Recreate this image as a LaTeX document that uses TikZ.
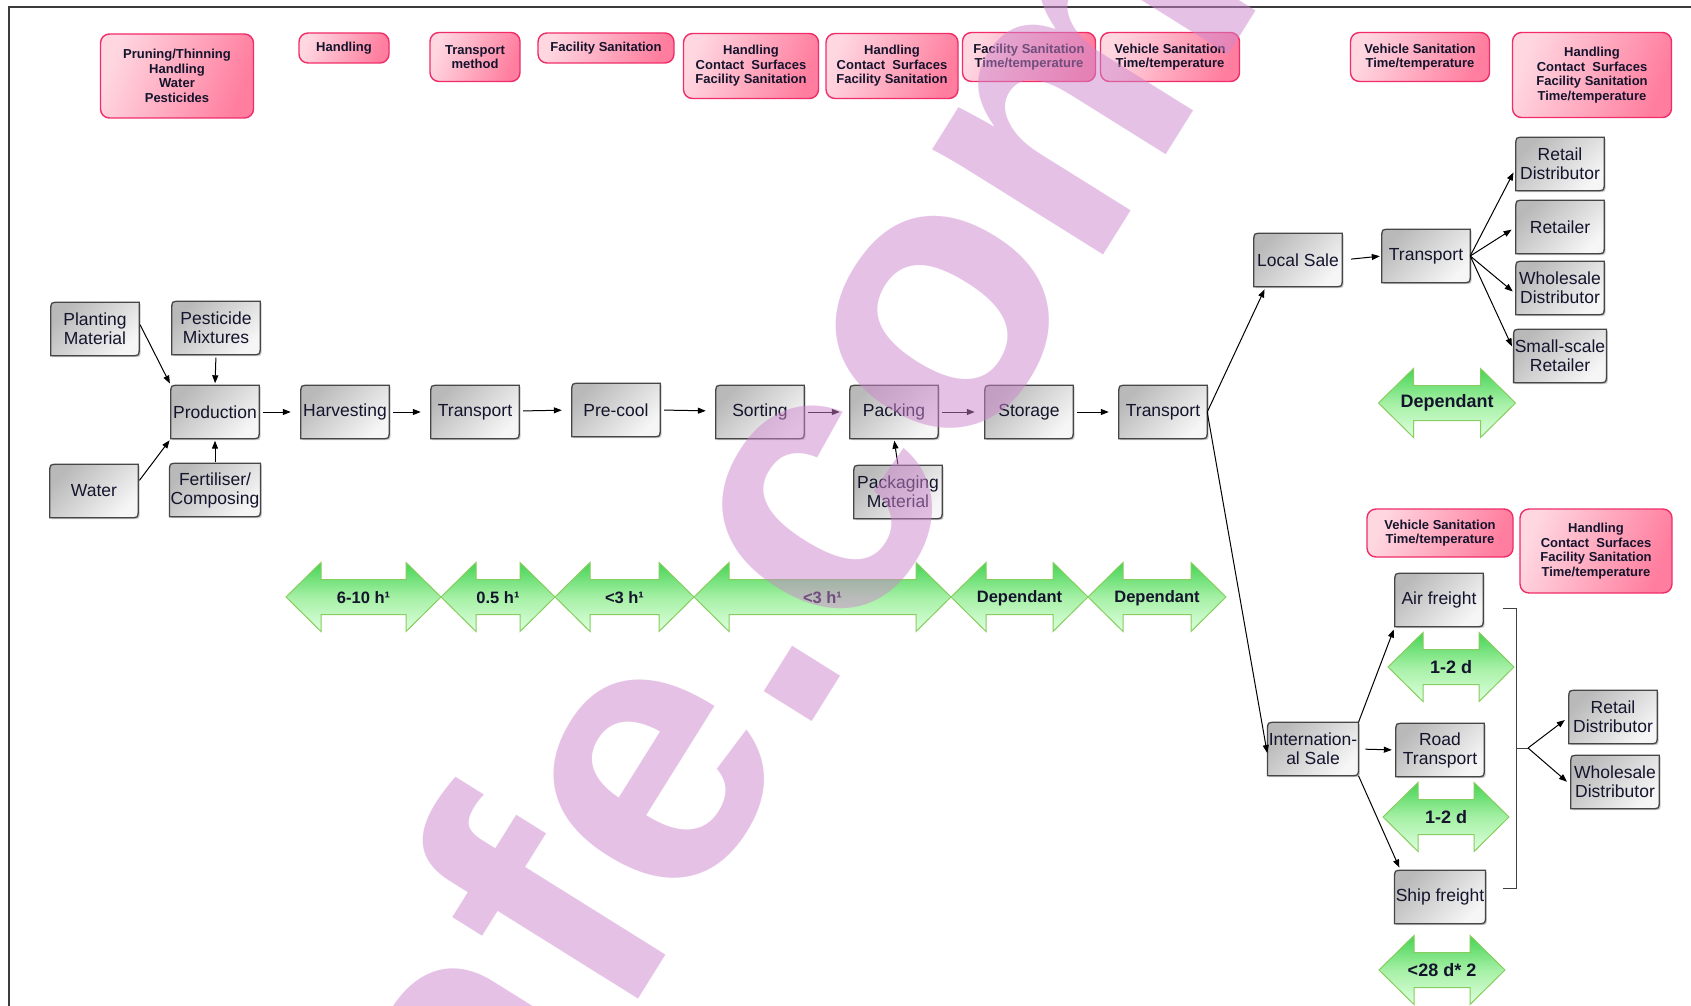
\documentclass[tikz,border=0pt]{standalone}
\usepackage{fontspec}
\setmainfont{Liberation Sans}
\usetikzlibrary{arrows.meta,backgrounds,shadows}

\definecolor{txt}{RGB}{20,20,45}
\definecolor{gborder}{RGB}{70,70,70}
\definecolor{gdark}{RGB}{185,185,185}
\definecolor{glight}{RGB}{246,246,246}
\definecolor{pborder}{RGB}{240,45,105}
\definecolor{plight}{RGB}{255,215,225}
\definecolor{pdark}{RGB}{255,125,158}
\definecolor{gaborder}{RGB}{135,205,95}
\definecolor{gatop}{RGB}{70,212,85}
\definecolor{gamid}{RGB}{165,240,165}
\definecolor{gabot}{RGB}{222,255,222}
\definecolor{wmc}{RGB}{205,135,205}
\definecolor{framec}{RGB}{60,60,60}

\newcommand{\boxfont}{\fontsize{17.5}{19}\selectfont}
\newcommand{\pinkfont}{\bfseries\fontsize{13}{14.5}\selectfont}
\newcommand{\arrfont}{\bfseries\fontsize{16.5}{18}\selectfont}
\newcommand{\arrbigfont}{\bfseries\fontsize{18}{20}\selectfont}
\newcommand{\wmfont}{\bfseries\fontsize{380}{380}\selectfont}

\tikzset{
  gbox/.style={minimum width=88pt, minimum height=53pt, inner sep=1pt, align=center, font=\boxfont, text=txt},
  gboxpath/.style={draw=gborder, line width=1.3pt, top color=gdark, bottom color=glight, shading angle=45,
    drop shadow={shadow xshift=1.5pt, shadow yshift=-1.5pt, opacity=0.35, fill=black!60}},
  pbox/.style={draw=pborder, line width=1.4pt, rounded corners=9pt, left color=plight, right color=pdark,
    shading angle=70, align=center, font=\pinkfont, inner sep=2pt, text=txt},
  garrow/.style={draw=gaborder, line width=1pt, top color=gatop, bottom color=gabot, middle color=gamid},
  atext/.style={font=\arrfont, text=txt, inner sep=0pt},
  abigtext/.style={font=\arrbigfont, text=txt, inner sep=0pt},
  conn/.style={-{Triangle[length=8pt,width=6pt]}, line width=1pt, draw=black},
  mainconn/.style={conn, shorten <=4pt, shorten >=10pt},
  bracketline/.style={draw=black!75, line width=1pt},
  framel/.style={draw=framec, line width=1.5pt},
  wm/.style={rotate=58, anchor=base east, font=\wmfont, text=wmc, text opacity=0.5, inner sep=0pt},
  pics/dblarrow/.style={code={
    \path[garrow] (-#1,0) -- (-#1+35,-34.5) -- (-#1+35,-17.5) -- (#1-35,-17.5) -- (#1-35,-34.5)
      -- (#1,0) -- (#1-35,34.5) -- (#1-35,17.5) -- (-#1+35,17.5) -- (-#1+35,34.5) -- cycle;
  }}
}

\begin{document}
\begin{tikzpicture}[x=1pt,y=-1pt]
\useasboundingbox (0,0) rectangle (1691,1006);
\begin{scope}[on background layer]
  \fill[white] (0,0) rectangle (1691,1006);
\end{scope}

% frame
\draw[framel] (9,1006) -- (9,7) -- (1691,7);

% pink hazard boxes
\node[pbox, minimum width=153pt, minimum height=84pt] (p1) at (177,76) {Pruning/Thinning\\Handling\\Water\\Pesticides};
\node[pbox, minimum width=90pt, minimum height=30pt] (p2) at (344,48) {Handling};
\node[pbox, minimum width=90pt, minimum height=49pt] (p3) at (475,57) {Transport\\method};
\node[pbox, minimum width=136pt, minimum height=30pt] (p4) at (606,48) {Facility Sanitation};
\node[pbox, minimum width=135pt, minimum height=65pt] (p5) at (751,66) {Handling\\Contact\ \ Surfaces\\Facility Sanitation};
\node[pbox, minimum width=132pt, minimum height=65pt] (p6) at (892,66) {Handling\\Contact\ \ Surfaces\\Facility Sanitation};
\node[pbox, minimum width=133pt, minimum height=49pt] (p7) at (1029,57) {Facility Sanitation\\Time/temperature};
\node[pbox, minimum width=139pt, minimum height=49pt] (p8) at (1170,57) {Vehicle Sanitation\\Time/temperature};
\node[pbox, minimum width=139pt, minimum height=49pt] (p9) at (1420,57) {Vehicle Sanitation\\Time/temperature};
\node[pbox, minimum width=159pt, minimum height=85pt] (p10) at (1592,75) {Handling\\Contact\ \ Surfaces\\Facility Sanitation\\Time/temperature};
\node[pbox, minimum width=146pt, minimum height=48pt] (p11) at (1440,533) {Vehicle Sanitation\\Time/temperature};
\node[pbox, minimum width=152pt, minimum height=84pt] (p12) at (1596,551) {Handling\\Contact\ \ Surfaces\\Facility Sanitation\\Time/temperature};

% gray process boxes
\node[gbox] (pm) at (95,329) {Planting\\Material};
\node[gbox] (pest) at (216,328) {Pesticide\\Mixtures};
\node[gbox] (prod) at (215,412) {Production};
\node[gbox] (water) at (94,491) {Water};
\node[gbox] (fert) at (215,490) {Fertiliser/\\Composing};
\node[gbox] (harv) at (345,412) {Harvesting};
\node[gbox] (tr1) at (475,412) {Transport};
\node[gbox] (pre) at (616,410) {Pre-cool};
\node[gbox] (sort) at (760,412) {Sorting};
\node[gbox] (pack) at (894,412) {Packing};
\node[gbox] (stor) at (1029,412) {Storage};
\node[gbox] (tr2) at (1163,412) {Transport};
\node[gbox] (pkgm) at (898,492) {Packaging\\Material};
\node[gbox] (local) at (1298,260) {Local Sale};
\node[gbox] (tr3) at (1426,256) {Transport};
\node[gbox] (rd) at (1560,164) {Retail\\Distributor};
\node[gbox] (ret) at (1560,227) {Retailer};
\node[gbox] (ws) at (1560,288) {Wholesale\\Distributor};
\node[gbox] (ss) at (1560,356) {Small-scale\\Retailer};
\node[gbox] (intl) at (1313,749) {Internation-\\al Sale};
\node[gbox] (air) at (1439,600) {Air freight};
\node[gbox] (road) at (1440,750) {Road\\Transport};
\node[gbox] (ship) at (1440,897) {Ship freight};
\node[gbox] (rd2) at (1613,717) {Retail\\Distributor};
\node[gbox] (ws2) at (1615,782) {Wholesale\\Distributor};

\begin{scope}[on background layer]
\foreach \n in {pm,pest,prod,water,fert,harv,tr1,pre,sort,pack,stor,tr2,pkgm,local,tr3,rd,ret,ws,ss,intl,air,road,ship,rd2,ws2}{
  \path[gboxpath] (\n.south west) -- ([yshift=-8pt]\n.north west) .. controls (\n.north west) .. ([xshift=8pt]\n.north west)
    -- (\n.north east) -- ([yshift=8pt]\n.south east) .. controls (\n.south east) .. ([xshift=-8pt]\n.south east) -- cycle;
}
\end{scope}

% green duration arrows
\pic at (363.5,597) {dblarrow=77.5};
\pic at (498,597) {dblarrow=57};
\pic at (624.5,597) {dblarrow=69.5};
\pic at (822.5,597) {dblarrow=128.5};
\pic at (1019.5,597) {dblarrow=68.5};
\pic at (1157,597) {dblarrow=69};
\pic at (1447,403) {dblarrow=68.5};
\pic at (1451,667) {dblarrow=63};
\pic at (1446,817) {dblarrow=63};
\pic at (1442,970) {dblarrow=63};

\node[atext] (d1) at (363.5,598) {6-10 h¹};
\node[atext] (d2) at (498,598) {0.5 h¹};
\node[atext] (d3) at (624.5,598) {<3 h¹};
\node[atext] (d4) at (822.5,598) {<3 h¹};
\node[atext] (d5) at (1019.5,598) {Dependant};
\node[atext] (d6) at (1157,598) {Dependant};
\node[abigtext] (d7) at (1447,403) {Dependant};
\node[abigtext] (d8) at (1451,667) {1-2 d};
\node[abigtext] (d9) at (1446,817) {1-2 d};
\node[abigtext] (d10) at (1442,970) {<28 d* 2};

% connectors: inputs to production
\draw[conn, shorten <=2pt, shorten >=2pt] ([yshift=6pt]pm.east) -- (prod.north west);
\draw[conn, shorten <=2pt, shorten >=2pt] ([yshift=9pt]water.east) -- (prod.south west);
\draw[conn, shorten <=3pt, shorten >=2pt] (pest.south) -- (prod.north);
\draw[conn, shorten <=1pt, shorten >=2pt] (fert.north) -- (prod.south);
\draw[conn, shorten <=1pt, shorten >=2pt] (pkgm.north) -- (pack.south);

% main chain
\draw[mainconn] (prod.east) -- (harv.west);
\draw[mainconn] (harv.east) -- (tr1.west);
\draw[mainconn] ([yshift=1pt]tr1.east) -- (pre.west);
\draw[mainconn] (pre.east) -- ([yshift=1pt]sort.west);
\draw[mainconn] (sort.east) -- (pack.west);
\draw[mainconn] (pack.east) -- (stor.west);
\draw[mainconn] (stor.east) -- (tr2.west);

% local branch
\draw[conn, shorten >=3pt] (tr2.east) -- ([xshift=12pt]local.south west);
\draw[conn, shorten <=9pt, shorten >=2pt] (local.east) -- (tr3.west);
\draw[conn, shorten >=5pt] (tr3.east) -- ([yshift=-4pt]rd.west);
\draw[conn, shorten >=5pt] (tr3.east) -- (ret.west);
\draw[conn, shorten >=4pt] (tr3.east) -- ([yshift=-6pt]ws.west);
\draw[conn, shorten >=4pt] (tr3.east) -- ([yshift=6pt]ss.west);

% international branch
\draw[conn, shorten >=2pt] (tr2.east) -- ([yshift=-6pt]intl.west);
\draw[conn, shorten >=3pt] (intl.north east) -- (air.south west);
\draw[conn, shorten <=7pt, shorten >=4pt] (intl.east) -- (road.west);
\draw[conn, shorten >=3pt] (intl.south east) -- ([xshift=6pt]ship.north west);

% bracket
\coordinate (bt1) at (1503,608);
\coordinate (bt2) at (1516,608);
\coordinate (bb2) at (1516,888);
\coordinate (bb1) at (1503,888);
\coordinate (bm) at (1516,748);
\coordinate (bsplit) at (1528,748);
\draw[bracketline] (bt1) -- (bt2) -- (bb2) -- (bb1);
\draw[bracketline] (bm) -- (bsplit);
\draw[conn, shorten >=5pt] (bsplit) -- (rd2.west);
\draw[conn, shorten >=5pt] (bsplit) -- ([yshift=-3pt]ws2.west);

% watermark
\node[wm] (wmk) at (1269,-9) {afe.com};
\end{tikzpicture}
\end{document}
